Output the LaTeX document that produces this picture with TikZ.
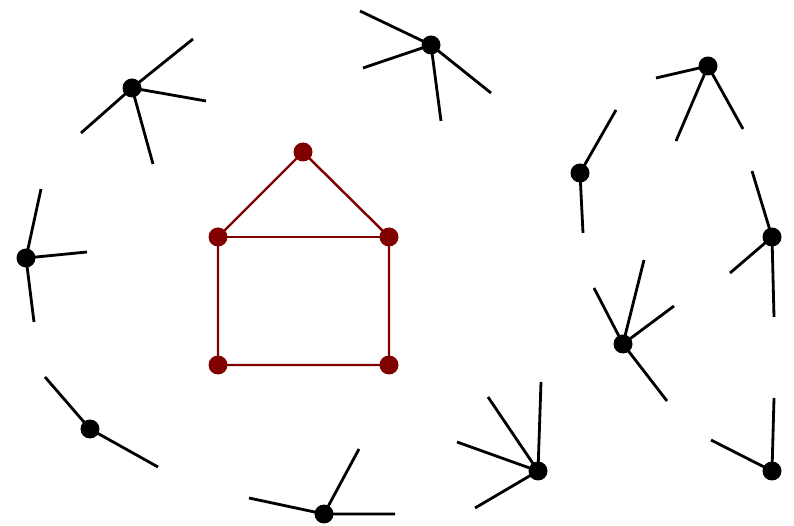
\documentclass[tikz,border=0pt]{standalone}
\usetikzlibrary{backgrounds}
\definecolor{casaRojo}{HTML}{800000}

\begin{document}
\begin{tikzpicture}[x=0.02cm,y=-0.02cm,
      dot/.style={circle, fill=#1, inner sep=0pt, minimum size=0.38cm},
      dot/.default=black,
      edge/.style={line width=1.6pt, draw=#1},
      edge/.default=black]
    \useasboundingbox (0,0) rectangle (794,526);
    % casa
    \node[dot=casaRojo] (techo) at (303,152) {};
    \node[dot=casaRojo] (ai) at (218,237) {};  \node[dot=casaRojo] (ad) at (389,237) {};
    \node[dot=casaRojo] (bi) at (218,365) {};  \node[dot=casaRojo] (bd) at (389,365) {};
    % nodos sueltos
    \node[dot] (s1) at (132,88) {};  \node[dot] (s2) at (431,45) {};
    \node[dot] (s3) at (708,66) {};  \node[dot] (s4) at (580,173) {};
    \node[dot] (s5) at (772,237) {}; \node[dot] (s6) at (26,258) {};
    \node[dot] (s7) at (623,344) {}; \node[dot] (s8) at (90,429) {};
    \node[dot] (s9) at (324,514) {}; \node[dot] (s10) at (538,471) {};
    \node[dot] (s11) at (772,471) {};
    % extremos libres
    \coordinate (s1a) at (193,39);  \coordinate (s1b) at (206,101); \coordinate (s1c) at (153,164); \coordinate (s1d) at (81,133);
    \coordinate (s2a) at (360,11);  \coordinate (s2b) at (363,68);  \coordinate (s2c) at (491,93);  \coordinate (s2d) at (441,121);
    \coordinate (s3a) at (656,78);  \coordinate (s3b) at (676,141); \coordinate (s3c) at (743,129);
    \coordinate (s4a) at (616,110); \coordinate (s4b) at (583,233);
    \coordinate (s5a) at (752,171); \coordinate (s5b) at (730,273); \coordinate (s5c) at (774,317);
    \coordinate (s6a) at (41,189);  \coordinate (s6b) at (87,252);  \coordinate (s6c) at (34,322);
    \coordinate (s7a) at (594,288); \coordinate (s7b) at (644,260); \coordinate (s7c) at (674,306); \coordinate (s7d) at (667,401);
    \coordinate (s8a) at (45,377);  \coordinate (s8b) at (158,467);
    \coordinate (s9a) at (249,498); \coordinate (s9b) at (359,449); \coordinate (s9c) at (395,514);
    \coordinate (s10a) at (488,397); \coordinate (s10b) at (541,382); \coordinate (s10c) at (457,442); \coordinate (s10d) at (475,508);
    \coordinate (s11a) at (774,398); \coordinate (s11b) at (711,440);
    \begin{scope}[on background layer]
      \draw[edge=casaRojo, line width=1.4pt] (techo.center)--(ai.center)--(bi.center)--(bd.center)--(ad.center)--(techo.center);
      \draw[edge=casaRojo, line width=1.4pt] (ai.center)--(ad.center);
      \draw[edge] (s1a)--(s1.center)--(s1b) (s1c)--(s1.center)--(s1d);
      \draw[edge] (s2a)--(s2.center)--(s2b) (s2c)--(s2.center)--(s2d);
      \draw[edge] (s3a)--(s3.center)--(s3b) (s3.center)--(s3c);
      \draw[edge] (s4a)--(s4.center)--(s4b);
      \draw[edge] (s5a)--(s5.center)--(s5b) (s5.center)--(s5c);
      \draw[edge] (s6a)--(s6.center)--(s6b) (s6.center)--(s6c);
      \draw[edge] (s7a)--(s7.center)--(s7b) (s7c)--(s7.center)--(s7d);
      \draw[edge] (s8a)--(s8.center)--(s8b);
      \draw[edge] (s9a)--(s9.center)--(s9b) (s9.center)--(s9c);
      \draw[edge] (s10a)--(s10.center)--(s10b) (s10c)--(s10.center)--(s10d);
      \draw[edge] (s11a)--(s11.center)--(s11b);
    \end{scope}
  \end{tikzpicture}
\end{document}
